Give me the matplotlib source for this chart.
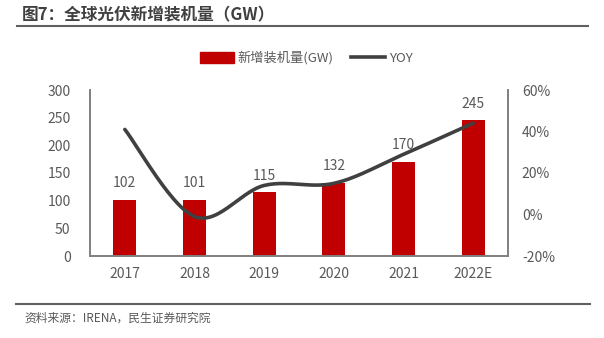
import numpy as np
import matplotlib
matplotlib.use('Agg')
import matplotlib.pyplot as plt
from matplotlib.lines import Line2D
from matplotlib.patches import Patch
from matplotlib.ticker import FuncFormatter

plt.rcParams['font.family'] = ['Noto Sans CJK SC', 'DejaVu Sans']

# data
years = ['2017', '2018', '2019', '2020', '2021', '2022E']
capacity = [102, 101, 115, 132, 170, 245]
yoy = [41, -1, 14, 15, 29, 44]

bar_color = '#C00000'
line_color = '#404040'
text_color = '#595959'
axis_color = '#808080'

fig = plt.figure(figsize=(6.04, 3.38), dpi=100)
ax = fig.add_axes([90 / 604, 1 - 256 / 338, 418 / 604, 166 / 338])
ax2 = ax.twinx()

x = np.arange(len(years))
ax.bar(x, capacity, width=0.33, color=bar_color, zorder=2)
for xi, v in zip(x, capacity):
    ax.annotate(str(v), (xi, v), xytext=(0, 7), textcoords='offset points',
                ha='center', va='bottom', fontsize=10, color=text_color)

# smoothed line (Excel-style bezier through points)
px = list(x.astype(float))
py = list(map(float, yoy))
ex = [px[0]] + px + [px[-1]]
ey = [py[0]] + py + [py[-1]]
sx, sy = [], []
t = np.linspace(0, 1, 30)
for i in range(len(px) - 1):
    p0 = np.array([ex[i + 1], ey[i + 1]])
    p3 = np.array([ex[i + 2], ey[i + 2]])
    p1 = p0 + (p3 - np.array([ex[i], ey[i]])) / 6
    p2 = p3 - (np.array([ex[i + 3], ey[i + 3]]) - p0) / 6
    pts = ((1 - t) ** 3)[:, None] * p0 + (3 * (1 - t) ** 2 * t)[:, None] * p1 \
        + (3 * (1 - t) * t ** 2)[:, None] * p2 + (t ** 3)[:, None] * p3
    sx.extend(pts[:, 0])
    sy.extend(pts[:, 1])
ax2.plot(sx, sy, color=line_color, lw=2.6, solid_capstyle='round', zorder=3)

ax.set_xlim(-0.5, 5.5)
ax.set_ylim(0, 300)
ax.set_yticks(range(0, 301, 50))
ax2.set_ylim(-20, 60)
ax2.set_yticks(range(-20, 61, 20))
ax2.yaxis.set_major_formatter(FuncFormatter(lambda v, p: f'{v:.0f}%'))
ax.set_xticks(x)
ax.set_xticklabels(years)

for a in (ax, ax2):
    a.tick_params(length=0, labelsize=10, colors=text_color)
    a.spines['top'].set_visible(False)
    for s in ('left', 'right', 'bottom'):
        a.spines[s].set_color(axis_color)
        a.spines[s].set_linewidth(1.2)
ax.tick_params(axis='y', pad=14)
ax2.tick_params(axis='y', pad=10)
ax.tick_params(axis='x', pad=8)
ax.set_zorder(ax2.get_zorder() - 1)
ax.patch.set_visible(False)

handles = [Patch(color=bar_color), Line2D([0], [0], color=line_color, lw=2.6)]
fig.legend(handles, ['新增装机量(GW)', 'YOY'], loc='center', ncol=2,
           bbox_to_anchor=(0.507, 1 - 58 / 338), frameon=False, fontsize=9.5,
           labelcolor=text_color, handlelength=2.6, handleheight=0.9,
           handletextpad=0.3, columnspacing=1.3)

fig.text(22 / 604, 1 - 15 / 338, '图7：全球光伏新增装机量（GW）', fontsize=12,
         fontweight='bold', color='#404040', va='center', ha='left')
fig.add_artist(Line2D([17 / 604, 588 / 604], [1 - 26 / 338] * 2, color='#606060', lw=1.5))
fig.add_artist(Line2D([16 / 604, 590 / 604], [1 - 304 / 338] * 2, color='#606060', lw=1.5))
fig.text(24 / 604, 1 - 318 / 338, '资料来源：IRENA，民生证券研究院', fontsize=8.5,
         color='#595959', va='center', ha='left')

fig.savefig('out.png', dpi=100)
